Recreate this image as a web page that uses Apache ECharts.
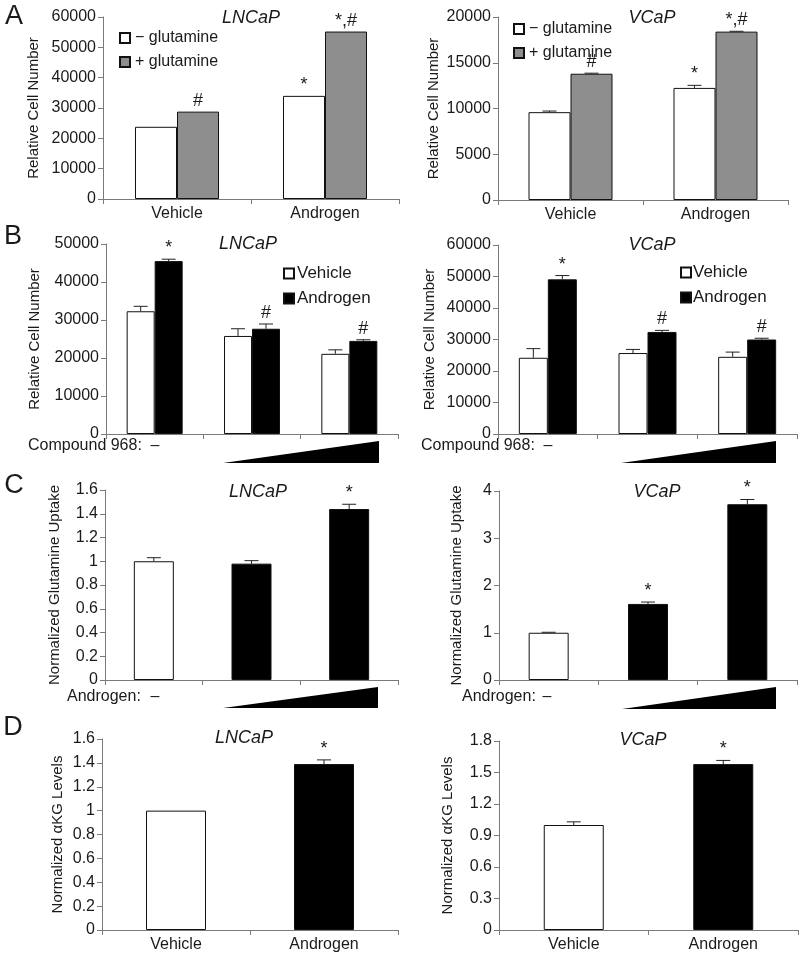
<!DOCTYPE html>
<html><head><meta charset="utf-8">
<script src="https://cdn.jsdelivr.net/npm/echarts@6/dist/echarts.min.js"></script>
<style>html,body{margin:0;padding:0;background:#fff}#c{width:800px;height:956px}</style>
</head><body><div id="c"></div>
<script>
// ---------- DATA ----------
const glnCats = ['Vehicle', 'Androgen'];
const doseCats = ['None', 'Low', 'High'];
const dCats = ['Vehicle', 'Androgen'];

// Panel A – LNCaP
const aLncapMinus = [23800, 34000];
const aLncapPlus = [28800, 55200];
const aLncapMinusErr = [0, 0];
const aLncapPlusErr = [0, 0];
const aLncapMinusMark = ['', '*'];
const aLncapPlusMark = ['#', '*,#'];
// Panel A – VCaP
const aVcapMinus = [9600, 12250];
const aVcapPlus = [13800, 18400];
const aVcapMinusErr = [120, 280];
const aVcapPlusErr = [60, 40];
const aVcapMinusMark = ['', '*'];
const aVcapPlusMark = ['#', '*,#'];

// Panel B – LNCaP
const bLncapVeh = [32300, 25800, 21100];
const bLncapAnd = [45500, 27700, 24500];
const bLncapVehErr = [1300, 1900, 1050];
const bLncapAndErr = [500, 1250, 300];
const bLncapVehMark = ['', '', ''];
const bLncapAndMark = ['*', '#', '#'];
// Panel B – VCaP
const bVcapVeh = [24200, 25700, 24500];
const bVcapAnd = [49100, 32400, 30000];
const bVcapVehErr = [2900, 1150, 1500];
const bVcapAndErr = [1200, 500, 400];
const bVcapVehMark = ['', '', ''];
const bVcapAndMark = ['*', '#', '#'];

// Panel C – treatment per bar
const cTreat = ['Vehicle', 'Androgen', 'Androgen'];
const cLncap = [1.0, 0.98, 1.44];
const cLncapErr = [0.03, 0.025, 0.04];
const cLncapMark = ['', '', '*'];
const cVcap = [1.0, 1.61, 3.72];
const cVcapErr = [0.01, 0.04, 0.1];
const cVcapMark = ['', '*', '*'];

// Panel D
const dTreat = ['Vehicle', 'Androgen'];
const dLncap = [1.0, 1.39];
const dLncapErr = [0, 0.035];
const dLncapMark = ['', '*'];
const dVcap = [1.0, 1.58];
const dVcapErr = [0.03, 0.035];
const dVcapMark = ['', '*'];

// Y-axis ticks
const yTicks = [
  {max: 60000, interval: 10000},
  {max: 20000, interval: 5000},
  {max: 50000, interval: 10000},
  {max: 60000, interval: 10000},
  {max: 1.6, interval: 0.2},
  {max: 4, interval: 1},
  {max: 1.6, interval: 0.2},
  {max: 1.8, interval: 0.3}
];

// ---------- STYLE / LAYOUT ----------
const FONT = 'Liberation Sans, Arial, sans-serif';
const AX = '#7a7a7a';
const TXT = '#1a1a1a';
const treatColor = {Vehicle: '#ffffff', Androgen: '#000000'};
const GRAY = '#8e8e8e';

const grids = [
  {left: 103, top: 17, width: 296, height: 182},
  {left: 498, top: 17, width: 290, height: 183},
  {left: 106, top: 244, width: 292, height: 190},
  {left: 498, top: 245, width: 299, height: 189},
  {left: 105, top: 490, width: 293, height: 190},
  {left: 499, top: 491, width: 298, height: 189},
  {left: 102, top: 739, width: 296, height: 191},
  {left: 499, top: 741, width: 299, height: 189}
];
const yNames = ['Relative Cell Number', 'Relative Cell Number', 'Relative Cell Number', 'Relative Cell Number',
  'Normalized Glutamine Uptake', 'Normalized Glutamine Uptake', 'Normalized \u03b1KG Levels', 'Normalized \u03b1KG Levels'];
const nameGaps = [62, 57, 64, 61, 43, 35, 37, 44];
const xCats = [glnCats, glnCats, doseCats, doseCats, doseCats, doseCats, dCats, dCats];
const xLabelShow = [true, true, false, false, false, false, true, true];

const xAxis = grids.map((g, i) => ({
  type: 'category', gridIndex: i, data: xCats[i],
  axisLine: {lineStyle: {color: AX, width: 1}},
  axisTick: {show: true, length: 5, lineStyle: {color: AX}},
  axisLabel: {show: xLabelShow[i], color: TXT, fontSize: 16, fontFamily: FONT, margin: 7}
}));
const yAxis = grids.map((g, i) => ({
  type: 'value', gridIndex: i, min: 0, max: yTicks[i].max, interval: yTicks[i].interval,
  name: yNames[i], nameLocation: 'middle', nameGap: nameGaps[i],
  nameTextStyle: {color: TXT, fontSize: 15, fontFamily: FONT},
  axisLine: {show: true, lineStyle: {color: AX, width: 1}},
  axisTick: {show: true, length: 5, lineStyle: {color: AX}},
  splitLine: {show: false},
  axisLabel: {color: TXT, fontSize: 16, fontFamily: FONT, margin: 7,
    formatter: v => String(Math.round(v * 1000) / 1000)}
}));

function errSeries(idx, values, errs, marks, offset) {
  return {
    type: 'custom', xAxisIndex: idx, yAxisIndex: idx, z: 5, silent: true, clip: false,
    data: values.map((v, i) => [i, v]),
    renderItem: function (params, api) {
      const i = params.dataIndex;
      const xi = api.value(0), v = api.value(1);
      const base = api.coord([xi, v]);
      const x = base[0] + offset;
      const top = base[1];
      const e = errs[i] || 0;
      const eTop = api.coord([xi, v + e])[1];
      const children = [];
      if (e > 0) {
        children.push({type: 'line', shape: {x1: x, y1: top, x2: x, y2: eTop}, style: {stroke: '#222', lineWidth: 1}});
        children.push({type: 'line', shape: {x1: x - 7, y1: eTop, x2: x + 7, y2: eTop}, style: {stroke: '#222', lineWidth: 1}});
      }
      if (marks[i]) {
        children.push({type: 'text', style: {text: marks[i], x: x, y: eTop - 2, align: 'center', verticalAlign: 'bottom',
          fontSize: 18, fontFamily: FONT, fill: TXT}});
      }
      return {type: 'group', children: children};
    }
  };
}

function barSeries(idx, name, values, color, width) {
  return {
    type: 'bar', name: name, xAxisIndex: idx, yAxisIndex: idx, data: values,
    barWidth: width, barGap: '0%',
    itemStyle: {color: color, borderColor: '#111', borderWidth: 1},
    silent: true
  };
}
function treatBarSeries(idx, name, values, treat, width) {
  return {
    type: 'bar', name: name, xAxisIndex: idx, yAxisIndex: idx,
    data: values.map((v, i) => ({value: v, itemStyle: {color: treatColor[treat[i]]}})),
    barWidth: width, itemStyle: {borderColor: '#111', borderWidth: 1}, silent: true
  };
}

const series = [
  barSeries(0, '\u2212 glutamine', aLncapMinus, '#ffffff', 42),
  barSeries(0, '+ glutamine', aLncapPlus, GRAY, 42),
  errSeries(0, aLncapMinus, aLncapMinusErr, aLncapMinusMark, -21),
  errSeries(0, aLncapPlus, aLncapPlusErr, aLncapPlusMark, 21),

  barSeries(1, '\u2212 glutamine', aVcapMinus, '#ffffff', 42),
  barSeries(1, '+ glutamine', aVcapPlus, GRAY, 42),
  errSeries(1, aVcapMinus, aVcapMinusErr, aVcapMinusMark, -21),
  errSeries(1, aVcapPlus, aVcapPlusErr, aVcapPlusMark, 21),

  barSeries(2, 'Vehicle', bLncapVeh, '#ffffff', 28),
  barSeries(2, 'Androgen', bLncapAnd, '#000000', 28),
  errSeries(2, bLncapVeh, bLncapVehErr, bLncapVehMark, -14),
  errSeries(2, bLncapAnd, bLncapAndErr, bLncapAndMark, 14),

  barSeries(3, 'Vehicle', bVcapVeh, '#ffffff', 29),
  barSeries(3, 'Androgen', bVcapAnd, '#000000', 29),
  errSeries(3, bVcapVeh, bVcapVehErr, bVcapVehMark, -14.5),
  errSeries(3, bVcapAnd, bVcapAndErr, bVcapAndMark, 14.5),

  treatBarSeries(4, 'Glutamine uptake LNCaP', cLncap, cTreat, 40),
  errSeries(4, cLncap, cLncapErr, cLncapMark, 0),
  treatBarSeries(5, 'Glutamine uptake VCaP', cVcap, cTreat, 40),
  errSeries(5, cVcap, cVcapErr, cVcapMark, 0),

  treatBarSeries(6, 'aKG LNCaP', dLncap, dTreat, 60),
  errSeries(6, dLncap, dLncapErr, dLncapMark, 0),
  treatBarSeries(7, 'aKG VCaP', dVcap, dTreat, 60),
  errSeries(7, dVcap, dVcapErr, dVcapMark, 0)
];

const legendBase = {orient: 'vertical', itemWidth: 10, itemHeight: 10, itemGap: 8, icon: 'rect', selectedMode: false,
  textStyle: {fontSize: 16, color: TXT, fontFamily: FONT}, padding: 0};
const legend = [
  Object.assign({}, legendBase, {data: ['\u2212 glutamine', '+ glutamine'], left: 119, top: 30}),
  Object.assign({}, legendBase, {data: ['\u2212 glutamine', '+ glutamine'], left: 513, top: 21}),
  Object.assign({}, legendBase, {data: ['Vehicle', 'Androgen'], left: 283, top: 265, textStyle: {fontSize: 17, color: TXT, fontFamily: FONT, padding: [0, 0, 0, -2]}}),
  Object.assign({}, legendBase, {data: ['Vehicle', 'Androgen'], left: 680, top: 264, textStyle: {fontSize: 17, color: TXT, fontFamily: FONT, padding: [0, 0, 0, -3]}})
];

function txt(text, x, y, opts) {
  return {type: 'text', x: x, y: y, silent: true,
    style: Object.assign({text: text, align: 'center', verticalAlign: 'middle', fontSize: 16, fontFamily: FONT, fill: TXT}, opts || {})};
}
function ital(text, x, y) { return txt(text, x, y, {fontStyle: 'italic', fontSize: 18}); }
function tri(x1, x2, yTop, yBot) {
  return {type: 'polygon', silent: true, shape: {points: [[x1, yBot], [x2, yBot], [x2, yTop]]}, style: {fill: '#000'}};
}

const graphic = [
  txt('A', 14, 17, {fontSize: 27}),
  txt('B', 13, 237, {fontSize: 27}),
  txt('C', 14, 486, {fontSize: 27}),
  txt('D', 13, 728, {fontSize: 27}),
  ital('LNCaP', 251, 18), ital('VCaP', 652, 18),
  ital('LNCaP', 248, 244), ital('VCaP', 652, 245),
  ital('LNCaP', 258, 492), ital('VCaP', 657, 492),
  ital('LNCaP', 244, 738), ital('VCaP', 643, 740),
  txt('Compound 968:', 28, 446, {align: 'left'}), txt('\u2013', 155, 446),
  txt('Compound 968:', 421, 446, {align: 'left'}), txt('\u2013', 548, 446),
  txt('Androgen:', 67, 697, {align: 'left'}), txt('\u2013', 155, 697),
  txt('Androgen:', 462, 697, {align: 'left'}), txt('\u2013', 547, 697),
  tri(223, 379, 441, 463), tri(621, 776, 441, 463),
  tri(223, 378, 687, 708), tri(622, 776, 687, 709)
];

const chart = echarts.init(document.getElementById('c'), null, {renderer: 'canvas'});
chart.setOption({
  animation: false,
  backgroundColor: '#fff',
  grid: grids,
  xAxis: xAxis,
  yAxis: yAxis,
  legend: legend,
  series: series,
  graphic: graphic
});
</script></body></html>
